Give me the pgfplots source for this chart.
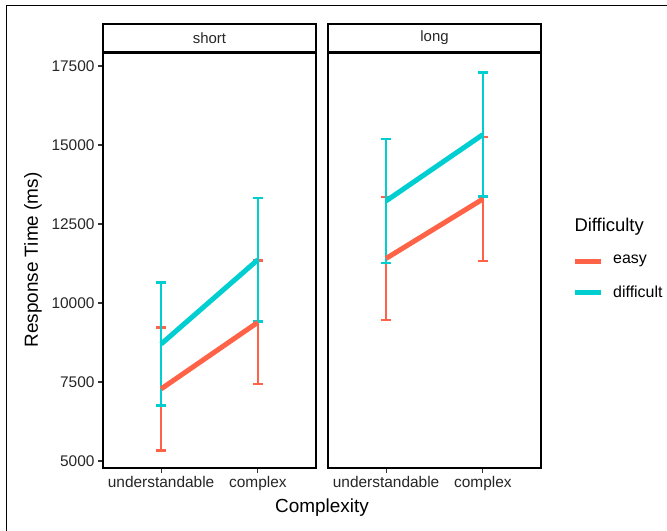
\documentclass[border=0pt]{standalone}
\usepackage{pgfplots}
\pgfplotsset{compat=1.18}
\usepackage{fontspec}
\setmainfont{Liberation Sans}
\definecolor{easyc}{HTML}{FF6347}
\definecolor{diffc}{HTML}{00CED1}
\pgfplotsset{
  panel/.style={
    scale only axis, width=213bp, height=415bp,
    xmin=0.4, xmax=2.6, ymin=4778, ymax=17911,
    axis line style={line width=2.3bp, black},
    xtick={1,2}, xticklabels={understandable,complex},
    tick style={line width=1.1bp, black!80},
    major tick length=5bp, tick align=outside,
    xtick pos=bottom, ytick pos=left,
    ticklabel style={font=\fontsize{15.5}{16}\selectfont, color=black!85},
    /pgf/number format/assume math mode=true,
    /pgf/number format/1000 sep={},
    scaled y ticks=false,
    ytick={5000,7500,10000,12500,15000,17500},
    clip=false,
  },
  ebar/.style={draw=none, mark=none, forget plot,
    error bars/.cd, y dir=both, y explicit,
    error bar style={line width=2.6bp, draw=#1},
    error mark options={rotate=90, draw=#1, line width=2.6bp, mark size=4.7bp}},
  mline/.style={draw=#1, line width=5bp, mark=none},
}
\begin{document}
\begin{tikzpicture}
\path[use as bounding box] (0,0) rectangle (667bp,-531bp);
\draw[line width=1bp] (6bp,-531bp) -- (6bp,-5bp) -- (667bp,-5bp);
% panel short
\begin{axis}[panel, at={(103bp,-468bp)}, anchor=south west]
\addplot[ebar=easyc] coordinates {(1,7280) +- (0,1950) (2,9390) +- (0,1950)};
\addplot[ebar=diffc] coordinates {(1,8700) +- (0,1950) (2,11370) +- (0,1950)};
\addplot[mline=easyc] coordinates {(1,7280) (2,9390)};
\addplot[mline=diffc] coordinates {(1,8700) (2,11370)};
\end{axis}
% panel long
\begin{axis}[panel, at={(328bp,-468bp)}, anchor=south west, ytick=\empty]
\addplot[ebar=easyc] coordinates {(1,11410) +- (0,1950) (2,13290) +- (0,1960)};
\addplot[ebar=diffc] coordinates {(1,13230) +- (0,1960) (2,15330) +- (0,1960)};
\addplot[mline=easyc] coordinates {(1,11410) (2,13290)};
\addplot[mline=diffc] coordinates {(1,13230) (2,15330)};
\end{axis}
% strips
\draw[line width=2.3bp, fill=white] (103bp,-24bp) rectangle (316bp,-52bp);
\node[font=\fontsize{15}{16}\selectfont, text=black!85] at (209.5bp,-38bp) {short};
\draw[line width=2.3bp, fill=white] (328bp,-24bp) rectangle (541bp,-52bp);
\node[font=\fontsize{15}{16}\selectfont, text=black!85] at (434.5bp,-38bp) {long};
% axis titles
\node[rotate=90, font=\fontsize{19}{20}\selectfont] at (33bp,-260bp) {Response Time (ms)};
\node[font=\fontsize{19}{20}\selectfont] at (322bp,-508bp) {Complexity};
% legend
\node[anchor=west, font=\fontsize{18.5}{19}\selectfont] at (571bp,-227bp) {Difficulty};
\draw[easyc, line width=5bp] (575bp,-261bp) -- (601bp,-261bp);
\draw[diffc, line width=5bp] (575bp,-292bp) -- (601bp,-292bp);
\node[anchor=west, font=\fontsize{16}{17}\selectfont, inner sep=0pt] at (613bp,-261bp) {easy};
\node[anchor=west, font=\fontsize{16}{17}\selectfont, inner sep=0pt] at (613bp,-292bp) {difficult};
\end{tikzpicture}
\end{document}
